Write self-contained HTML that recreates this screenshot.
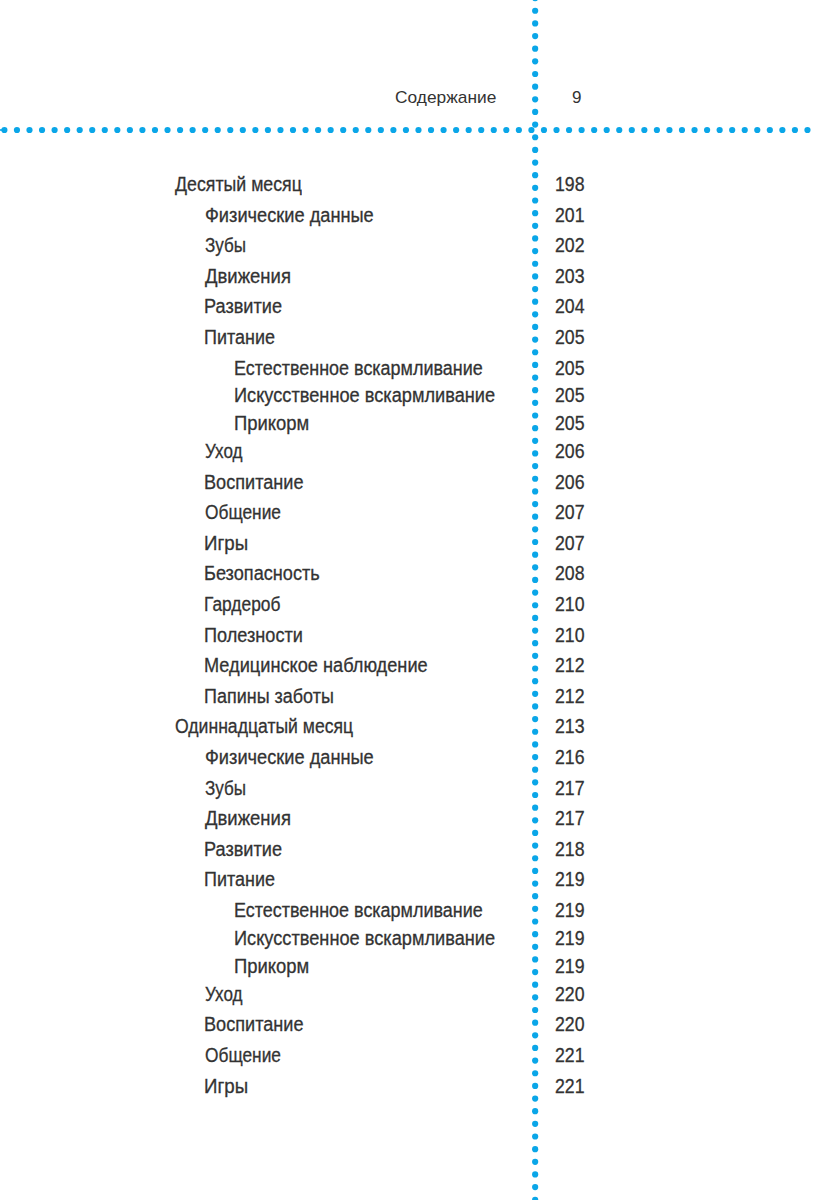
<!DOCTYPE html>
<html lang="ru">
<head>
<meta charset="utf-8">
<title>Содержание</title>
<style>
html,body{margin:0;padding:0;background:#fff;}
body{width:817px;height:1200px;position:relative;overflow:hidden;font-family:"Liberation Sans",sans-serif;color:#333;}
.t,.n{position:absolute;white-space:nowrap;font-size:20px;line-height:20px;height:20px;transform-origin:0 0;}
.t{-webkit-text-stroke:0.3px #333;}
.n{font-size:20px;-webkit-text-stroke:0.3px #333;}
.h{position:absolute;white-space:nowrap;font-size:17px;line-height:20px;height:20px;transform-origin:0 0;color:#333;}
svg{position:absolute;left:0;top:0;}
</style>
</head>
<body>
<svg width="817" height="1200" viewBox="0 0 817 1200"><g fill="#0aa6e8">
<circle cx="4.40" cy="130.00" r="3.1"/><circle cx="16.95" cy="130.00" r="3.1"/><circle cx="29.50" cy="130.00" r="3.1"/><circle cx="42.04" cy="130.00" r="3.1"/><circle cx="54.59" cy="130.00" r="3.1"/><circle cx="67.14" cy="130.00" r="3.1"/><circle cx="79.69" cy="130.00" r="3.1"/><circle cx="92.24" cy="130.00" r="3.1"/><circle cx="104.78" cy="130.00" r="3.1"/><circle cx="117.33" cy="130.00" r="3.1"/><circle cx="129.88" cy="130.00" r="3.1"/><circle cx="142.43" cy="130.00" r="3.1"/><circle cx="154.98" cy="130.00" r="3.1"/><circle cx="167.52" cy="130.00" r="3.1"/><circle cx="180.07" cy="130.00" r="3.1"/><circle cx="192.62" cy="130.00" r="3.1"/><circle cx="205.17" cy="130.00" r="3.1"/><circle cx="217.72" cy="130.00" r="3.1"/><circle cx="230.26" cy="130.00" r="3.1"/><circle cx="242.81" cy="130.00" r="3.1"/><circle cx="255.36" cy="130.00" r="3.1"/><circle cx="267.91" cy="130.00" r="3.1"/><circle cx="280.46" cy="130.00" r="3.1"/><circle cx="293.00" cy="130.00" r="3.1"/><circle cx="305.55" cy="130.00" r="3.1"/><circle cx="318.10" cy="130.00" r="3.1"/><circle cx="330.65" cy="130.00" r="3.1"/><circle cx="343.20" cy="130.00" r="3.1"/><circle cx="355.74" cy="130.00" r="3.1"/><circle cx="368.29" cy="130.00" r="3.1"/><circle cx="380.84" cy="130.00" r="3.1"/><circle cx="393.39" cy="130.00" r="3.1"/><circle cx="405.94" cy="130.00" r="3.1"/><circle cx="418.48" cy="130.00" r="3.1"/><circle cx="431.03" cy="130.00" r="3.1"/><circle cx="443.58" cy="130.00" r="3.1"/><circle cx="456.13" cy="130.00" r="3.1"/><circle cx="468.68" cy="130.00" r="3.1"/><circle cx="481.22" cy="130.00" r="3.1"/><circle cx="493.77" cy="130.00" r="3.1"/><circle cx="506.32" cy="130.00" r="3.1"/><circle cx="518.87" cy="130.00" r="3.1"/><circle cx="531.42" cy="130.00" r="3.1"/><circle cx="543.96" cy="130.00" r="3.1"/><circle cx="556.51" cy="130.00" r="3.1"/><circle cx="569.06" cy="130.00" r="3.1"/><circle cx="581.61" cy="130.00" r="3.1"/><circle cx="594.16" cy="130.00" r="3.1"/><circle cx="606.70" cy="130.00" r="3.1"/><circle cx="619.25" cy="130.00" r="3.1"/><circle cx="631.80" cy="130.00" r="3.1"/><circle cx="644.35" cy="130.00" r="3.1"/><circle cx="656.90" cy="130.00" r="3.1"/><circle cx="669.44" cy="130.00" r="3.1"/><circle cx="681.99" cy="130.00" r="3.1"/><circle cx="694.54" cy="130.00" r="3.1"/><circle cx="707.09" cy="130.00" r="3.1"/><circle cx="719.64" cy="130.00" r="3.1"/><circle cx="732.18" cy="130.00" r="3.1"/><circle cx="744.73" cy="130.00" r="3.1"/><circle cx="757.28" cy="130.00" r="3.1"/><circle cx="769.83" cy="130.00" r="3.1"/><circle cx="782.38" cy="130.00" r="3.1"/><circle cx="794.92" cy="130.00" r="3.1"/><circle cx="807.47" cy="130.00" r="3.1"/>
<circle cx="535.15" cy="-1.90" r="3.1"/><circle cx="535.15" cy="10.75" r="3.1"/><circle cx="535.15" cy="23.40" r="3.1"/><circle cx="535.15" cy="36.05" r="3.1"/><circle cx="535.15" cy="48.70" r="3.1"/><circle cx="535.15" cy="61.35" r="3.1"/><circle cx="535.15" cy="74.00" r="3.1"/><circle cx="535.15" cy="86.64" r="3.1"/><circle cx="535.15" cy="99.29" r="3.1"/><circle cx="535.15" cy="111.94" r="3.1"/><circle cx="535.15" cy="124.59" r="3.1"/><circle cx="535.15" cy="137.24" r="3.1"/><circle cx="535.15" cy="149.89" r="3.1"/><circle cx="535.15" cy="162.54" r="3.1"/><circle cx="535.15" cy="175.19" r="3.1"/><circle cx="535.15" cy="187.84" r="3.1"/><circle cx="535.15" cy="200.48" r="3.1"/><circle cx="535.15" cy="213.13" r="3.1"/><circle cx="535.15" cy="225.78" r="3.1"/><circle cx="535.15" cy="238.43" r="3.1"/><circle cx="535.15" cy="251.08" r="3.1"/><circle cx="535.15" cy="263.73" r="3.1"/><circle cx="535.15" cy="276.38" r="3.1"/><circle cx="535.15" cy="289.03" r="3.1"/><circle cx="535.15" cy="301.68" r="3.1"/><circle cx="535.15" cy="314.33" r="3.1"/><circle cx="535.15" cy="326.97" r="3.1"/><circle cx="535.15" cy="339.62" r="3.1"/><circle cx="535.15" cy="352.27" r="3.1"/><circle cx="535.15" cy="364.92" r="3.1"/><circle cx="535.15" cy="377.57" r="3.1"/><circle cx="535.15" cy="390.22" r="3.1"/><circle cx="535.15" cy="402.87" r="3.1"/><circle cx="535.15" cy="415.52" r="3.1"/><circle cx="535.15" cy="428.17" r="3.1"/><circle cx="535.15" cy="440.82" r="3.1"/><circle cx="535.15" cy="453.46" r="3.1"/><circle cx="535.15" cy="466.11" r="3.1"/><circle cx="535.15" cy="478.76" r="3.1"/><circle cx="535.15" cy="491.41" r="3.1"/><circle cx="535.15" cy="504.06" r="3.1"/><circle cx="535.15" cy="516.71" r="3.1"/><circle cx="535.15" cy="529.36" r="3.1"/><circle cx="535.15" cy="542.01" r="3.1"/><circle cx="535.15" cy="554.66" r="3.1"/><circle cx="535.15" cy="567.31" r="3.1"/><circle cx="535.15" cy="579.95" r="3.1"/><circle cx="535.15" cy="592.60" r="3.1"/><circle cx="535.15" cy="605.25" r="3.1"/><circle cx="535.15" cy="617.90" r="3.1"/><circle cx="535.15" cy="630.55" r="3.1"/><circle cx="535.15" cy="643.20" r="3.1"/><circle cx="535.15" cy="655.85" r="3.1"/><circle cx="535.15" cy="668.50" r="3.1"/><circle cx="535.15" cy="681.15" r="3.1"/><circle cx="535.15" cy="693.80" r="3.1"/><circle cx="535.15" cy="706.44" r="3.1"/><circle cx="535.15" cy="719.09" r="3.1"/><circle cx="535.15" cy="731.74" r="3.1"/><circle cx="535.15" cy="744.39" r="3.1"/><circle cx="535.15" cy="757.04" r="3.1"/><circle cx="535.15" cy="769.69" r="3.1"/><circle cx="535.15" cy="782.34" r="3.1"/><circle cx="535.15" cy="794.99" r="3.1"/><circle cx="535.15" cy="807.64" r="3.1"/><circle cx="535.15" cy="820.29" r="3.1"/><circle cx="535.15" cy="832.93" r="3.1"/><circle cx="535.15" cy="845.58" r="3.1"/><circle cx="535.15" cy="858.23" r="3.1"/><circle cx="535.15" cy="870.88" r="3.1"/><circle cx="535.15" cy="883.53" r="3.1"/><circle cx="535.15" cy="896.18" r="3.1"/><circle cx="535.15" cy="908.83" r="3.1"/><circle cx="535.15" cy="921.48" r="3.1"/><circle cx="535.15" cy="934.13" r="3.1"/><circle cx="535.15" cy="946.78" r="3.1"/><circle cx="535.15" cy="959.42" r="3.1"/><circle cx="535.15" cy="972.07" r="3.1"/><circle cx="535.15" cy="984.72" r="3.1"/><circle cx="535.15" cy="997.37" r="3.1"/><circle cx="535.15" cy="1010.02" r="3.1"/><circle cx="535.15" cy="1022.67" r="3.1"/><circle cx="535.15" cy="1035.32" r="3.1"/><circle cx="535.15" cy="1047.97" r="3.1"/><circle cx="535.15" cy="1060.62" r="3.1"/><circle cx="535.15" cy="1073.27" r="3.1"/><circle cx="535.15" cy="1085.91" r="3.1"/><circle cx="535.15" cy="1098.56" r="3.1"/><circle cx="535.15" cy="1111.21" r="3.1"/><circle cx="535.15" cy="1123.86" r="3.1"/><circle cx="535.15" cy="1136.51" r="3.1"/><circle cx="535.15" cy="1149.16" r="3.1"/><circle cx="535.15" cy="1161.81" r="3.1"/><circle cx="535.15" cy="1174.46" r="3.1"/><circle cx="535.15" cy="1187.11" r="3.1"/><circle cx="535.15" cy="1199.76" r="3.1"/>
<rect x="0" y="129.20" width="4" height="1.6"/>
</g></svg>
<div class="h" style="left:394.64px;top:88.00px;transform:scaleX(1.0200)">Содержание</div>
<div class="h" style="left:572.00px;top:88.00px;transform:scaleX(1.0000)">9</div>
<div class="t" style="left:175.48px;top:174.00px;transform:scaleX(0.8879)">Десятый месяц</div><div class="n" style="left:554.60px;top:174.00px;transform:scaleX(0.8850)">198</div>
<div class="t" style="left:204.56px;top:205.00px;transform:scaleX(0.9109)">Физические данные</div><div class="n" style="left:554.60px;top:205.00px;transform:scaleX(0.8850)">201</div>
<div class="t" style="left:205.06px;top:235.00px;transform:scaleX(0.8522)">Зубы</div><div class="n" style="left:554.60px;top:235.00px;transform:scaleX(0.8850)">202</div>
<div class="t" style="left:205.47px;top:266.00px;transform:scaleX(0.9249)">Движения</div><div class="n" style="left:554.60px;top:266.00px;transform:scaleX(0.8850)">203</div>
<div class="t" style="left:204.11px;top:296.00px;transform:scaleX(0.9069)">Развитие</div><div class="n" style="left:554.60px;top:296.00px;transform:scaleX(0.8850)">204</div>
<div class="t" style="left:204.35px;top:327.00px;transform:scaleX(0.8993)">Питание</div><div class="n" style="left:554.60px;top:327.00px;transform:scaleX(0.8850)">205</div>
<div class="t" style="left:233.78px;top:358.00px;transform:scaleX(0.8976)">Естественное вскармливание</div><div class="n" style="left:554.60px;top:358.00px;transform:scaleX(0.8850)">205</div>
<div class="t" style="left:233.76px;top:385.00px;transform:scaleX(0.9098)">Искусственное вскармливание</div><div class="n" style="left:554.60px;top:385.00px;transform:scaleX(0.8850)">205</div>
<div class="t" style="left:233.97px;top:413.00px;transform:scaleX(0.9219)">Прикорм</div><div class="n" style="left:554.60px;top:413.00px;transform:scaleX(0.8850)">205</div>
<div class="t" style="left:205.27px;top:441.00px;transform:scaleX(0.8535)">Уход</div><div class="n" style="left:554.60px;top:441.00px;transform:scaleX(0.8850)">206</div>
<div class="t" style="left:204.11px;top:472.00px;transform:scaleX(0.9063)">Воспитание</div><div class="n" style="left:554.60px;top:472.00px;transform:scaleX(0.8850)">206</div>
<div class="t" style="left:204.83px;top:502.00px;transform:scaleX(0.8665)">Общение</div><div class="n" style="left:554.60px;top:502.00px;transform:scaleX(0.8850)">207</div>
<div class="t" style="left:204.07px;top:533.00px;transform:scaleX(0.9341)">Игры</div><div class="n" style="left:554.60px;top:533.00px;transform:scaleX(0.8850)">207</div>
<div class="t" style="left:204.11px;top:563.00px;transform:scaleX(0.9072)">Безопасность</div><div class="n" style="left:554.60px;top:563.00px;transform:scaleX(0.8850)">208</div>
<div class="t" style="left:204.18px;top:594.00px;transform:scaleX(0.8690)">Гардероб</div><div class="n" style="left:554.60px;top:594.00px;transform:scaleX(0.8850)">210</div>
<div class="t" style="left:204.34px;top:625.00px;transform:scaleX(0.9064)">Полезности</div><div class="n" style="left:554.60px;top:625.00px;transform:scaleX(0.8850)">210</div>
<div class="t" style="left:204.11px;top:655.00px;transform:scaleX(0.9094)">Медицинское наблюдение</div><div class="n" style="left:554.60px;top:655.00px;transform:scaleX(0.8850)">212</div>
<div class="t" style="left:204.35px;top:686.00px;transform:scaleX(0.8989)">Папины заботы</div><div class="n" style="left:554.60px;top:686.00px;transform:scaleX(0.8850)">212</div>
<div class="t" style="left:174.82px;top:716.00px;transform:scaleX(0.8801)">Одиннадцатый месяц</div><div class="n" style="left:554.60px;top:716.00px;transform:scaleX(0.8850)">213</div>
<div class="t" style="left:204.56px;top:747.00px;transform:scaleX(0.9109)">Физические данные</div><div class="n" style="left:554.60px;top:747.00px;transform:scaleX(0.8850)">216</div>
<div class="t" style="left:205.06px;top:778.00px;transform:scaleX(0.8522)">Зубы</div><div class="n" style="left:554.60px;top:778.00px;transform:scaleX(0.8850)">217</div>
<div class="t" style="left:205.47px;top:808.00px;transform:scaleX(0.9249)">Движения</div><div class="n" style="left:554.60px;top:808.00px;transform:scaleX(0.8850)">217</div>
<div class="t" style="left:204.11px;top:839.00px;transform:scaleX(0.9069)">Развитие</div><div class="n" style="left:554.60px;top:839.00px;transform:scaleX(0.8850)">218</div>
<div class="t" style="left:204.35px;top:869.00px;transform:scaleX(0.8993)">Питание</div><div class="n" style="left:554.60px;top:869.00px;transform:scaleX(0.8850)">219</div>
<div class="t" style="left:233.78px;top:900.00px;transform:scaleX(0.8976)">Естественное вскармливание</div><div class="n" style="left:554.60px;top:900.00px;transform:scaleX(0.8850)">219</div>
<div class="t" style="left:233.76px;top:928.00px;transform:scaleX(0.9098)">Искусственное вскармливание</div><div class="n" style="left:554.60px;top:928.00px;transform:scaleX(0.8850)">219</div>
<div class="t" style="left:233.97px;top:956.00px;transform:scaleX(0.9219)">Прикорм</div><div class="n" style="left:554.60px;top:956.00px;transform:scaleX(0.8850)">219</div>
<div class="t" style="left:205.27px;top:984.00px;transform:scaleX(0.8535)">Уход</div><div class="n" style="left:554.60px;top:984.00px;transform:scaleX(0.8850)">220</div>
<div class="t" style="left:204.11px;top:1014.00px;transform:scaleX(0.9063)">Воспитание</div><div class="n" style="left:554.60px;top:1014.00px;transform:scaleX(0.8850)">220</div>
<div class="t" style="left:204.83px;top:1045.00px;transform:scaleX(0.8665)">Общение</div><div class="n" style="left:554.60px;top:1045.00px;transform:scaleX(0.8850)">221</div>
<div class="t" style="left:204.07px;top:1076.00px;transform:scaleX(0.9341)">Игры</div><div class="n" style="left:554.60px;top:1076.00px;transform:scaleX(0.8850)">221</div>
</body>
</html>
